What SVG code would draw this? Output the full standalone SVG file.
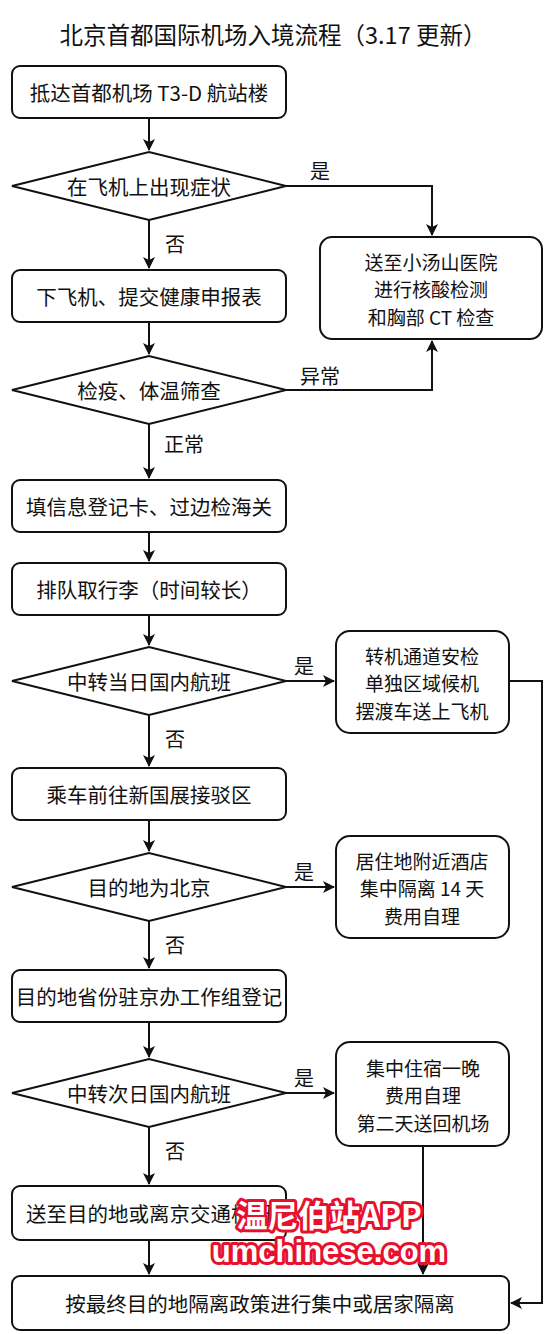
<svg xmlns="http://www.w3.org/2000/svg" width="552" height="1334" viewBox="0 0 552 1334">
<defs>
<marker id="ah" viewBox="0 0 12 12" refX="11" refY="6" markerWidth="12" markerHeight="12" markerUnits="userSpaceOnUse" orient="auto">
<path d="M0,0 L12,6 L0,12 L3,6 Z" fill="#111"/>
</marker>
<style>
.box{fill:#fff;stroke:#111;stroke-width:2}
.t{font-family:"Noto Sans CJK SC","Liberation Sans",sans-serif;font-size:20.5px;fill:#111;text-anchor:middle;dominant-baseline:central}
.m{font-family:"Noto Sans CJK SC","Liberation Sans",sans-serif;font-size:19px;fill:#111;text-anchor:middle;dominant-baseline:central}
.lb{font-family:"Noto Sans CJK SC","Liberation Sans",sans-serif;font-size:20px;fill:#111;text-anchor:middle;dominant-baseline:central}
.c{fill:none;stroke:#111;stroke-width:2}
.wm{font-family:"Noto Sans CJK SC","Liberation Sans",sans-serif;font-weight:bold;fill:#fff;stroke:#e8112d;stroke-width:6;stroke-linejoin:round;paint-order:stroke;text-anchor:middle}
</style>
</defs>
<rect width="552" height="1334" fill="#fff"/>
<text x="273" y="34" class="t" style="font-size:23.5px">北京首都国际机场入境流程（3.17 更新）</text>

<g id="connectors">
<path class="c" d="M149,118 V150" marker-end="url(#ah)"/>
<path class="c" d="M286,186 H432 V235" marker-end="url(#ah)"/>
<path class="c" d="M149,220 V268" marker-end="url(#ah)"/>
<path class="c" d="M149,322 V354" marker-end="url(#ah)"/>
<path class="c" d="M286,390 H432 V341" marker-end="url(#ah)"/>
<path class="c" d="M149,424 V478" marker-end="url(#ah)"/>
<path class="c" d="M149,532 V561" marker-end="url(#ah)"/>
<path class="c" d="M149,615 V645" marker-end="url(#ah)"/>
<path class="c" d="M286,681 H334" marker-end="url(#ah)"/>
<path class="c" d="M509,681 H542 V1303 H511" marker-end="url(#ah)"/>
<path class="c" d="M149,715 V766" marker-end="url(#ah)"/>
<path class="c" d="M149,820 V851" marker-end="url(#ah)"/>
<path class="c" d="M286,887 H334" marker-end="url(#ah)"/>
<path class="c" d="M149,921 V968" marker-end="url(#ah)"/>
<path class="c" d="M149,1022 V1057" marker-end="url(#ah)"/>
<path class="c" d="M286,1093 H334" marker-end="url(#ah)"/>
<path class="c" d="M423,1146 V1274" marker-end="url(#ah)"/>
<path class="c" d="M149,1127 V1184" marker-end="url(#ah)"/>
<path class="c" d="M149,1240 V1274" marker-end="url(#ah)"/>
<text x="320" y="170" class="lb">是</text>
<text x="175" y="243" class="lb">否</text>
<text x="320" y="375" class="lb">异常</text>
<text x="184" y="443" class="lb">正常</text>
<text x="304" y="665" class="lb">是</text>
<text x="175" y="738" class="lb">否</text>
<text x="304" y="871" class="lb">是</text>
<text x="175" y="944" class="lb">否</text>
<text x="304" y="1077" class="lb">是</text>
<text x="175" y="1150" class="lb">否</text>
</g>

<g id="n1"><rect class="box" x="12" y="66" width="274" height="52" rx="8"/><text x="149" y="92" class="t">抵达首都机场 T3-D 航站楼</text></g>
<g id="d1"><polygon class="box" points="12,186 149,152 286,186 149,220"/><text x="149" y="186" class="t">在飞机上出现症状</text></g>
<g id="r1"><rect class="box" x="320" y="237" width="222" height="102" rx="12"/>
<text class="m"><tspan x="431" y="260.5">送至小汤山医院</tspan><tspan x="431" y="288">进行核酸检测</tspan><tspan x="431" y="315.5">和胸部 CT 检查</tspan></text></g>
<g id="n2"><rect class="box" x="12" y="270" width="274" height="52" rx="8"/><text x="149" y="296" class="t">下飞机、提交健康申报表</text></g>
<g id="d2"><polygon class="box" points="12,390 149,356 286,390 149,424"/><text x="149" y="390" class="t">检疫、体温筛查</text></g>
<g id="n3"><rect class="box" x="12" y="480" width="274" height="52" rx="8"/><text x="149" y="506" class="t">填信息登记卡、过边检海关</text></g>
<g id="n4"><rect class="box" x="12" y="563" width="274" height="52" rx="8"/><text x="149" y="589" class="t">排队取行李（时间较长）</text></g>
<g id="d3"><polygon class="box" points="12,681 149,647 286,681 149,715"/><text x="149" y="681" class="t">中转当日国内航班</text></g>
<g id="r3"><rect class="box" x="336" y="631" width="173" height="102" rx="14"/>
<text class="m"><tspan x="422" y="654.5">转机通道安检</tspan><tspan x="422" y="682">单独区域候机</tspan><tspan x="422" y="709.5">摆渡车送上飞机</tspan></text></g>
<g id="n5"><rect class="box" x="12" y="768" width="274" height="52" rx="8"/><text x="149" y="794" class="t">乘车前往新国展接驳区</text></g>
<g id="d4"><polygon class="box" points="12,887 149,853 286,887 149,921"/><text x="149" y="887" class="t">目的地为北京</text></g>
<g id="r4"><rect class="box" x="336" y="836" width="173" height="102" rx="14"/>
<text class="m"><tspan x="422" y="859.5">居住地附近酒店</tspan><tspan x="422" y="887">集中隔离 14 天</tspan><tspan x="422" y="914.5">费用自理</tspan></text></g>
<g id="n6"><rect class="box" x="12" y="970" width="274" height="52" rx="8"/><text x="149" y="996" class="t">目的地省份驻京办工作组登记</text></g>
<g id="d5"><polygon class="box" points="12,1093 149,1059 286,1093 149,1127"/><text x="149" y="1093" class="t">中转次日国内航班</text></g>
<g id="r5"><rect class="box" x="336" y="1042" width="173" height="104" rx="14"/>
<text class="m"><tspan x="423" y="1066.5">集中住宿一晚</tspan><tspan x="423" y="1094">费用自理</tspan><tspan x="423" y="1121.5">第二天送回机场</tspan></text></g>
<g id="n7"><rect class="box" x="12" y="1186" width="274" height="54" rx="8"/><text x="149" y="1213" class="t">送至目的地或离京交通枢纽</text></g>
<g id="n8"><rect class="box" x="12" y="1276" width="497" height="54" rx="8"/><text x="260" y="1303" class="t">按最终目的地隔离政策进行集中或居家隔离</text></g>

<g id="watermark">
<text x="329" y="1227" class="wm" style="font-size:31px">温尼伯站APP</text>
<text x="329" y="1262" class="wm" style="font-size:31px;font-family:'Liberation Sans',sans-serif">umchinese.com</text>
</g>
</svg>
